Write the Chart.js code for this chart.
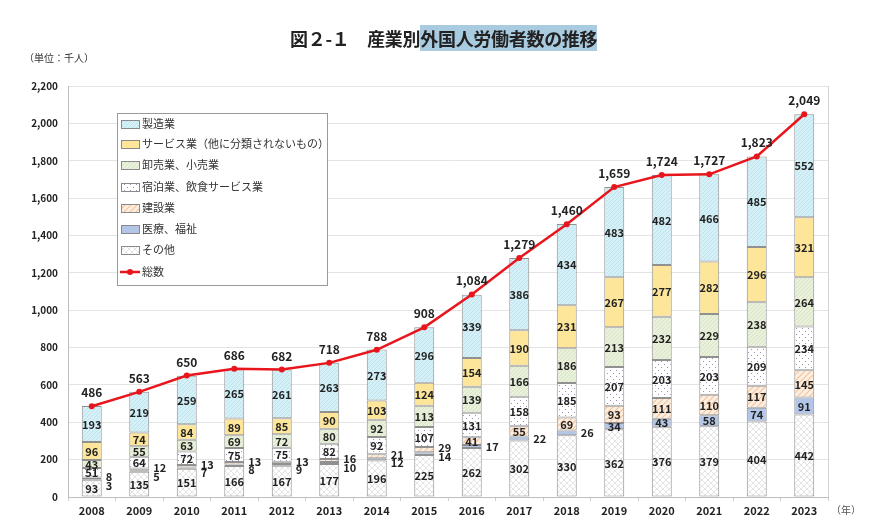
<!DOCTYPE html>
<html><head><meta charset="utf-8">
<script src="https://cdn.jsdelivr.net/npm/chart.js@4/dist/chart.umd.min.js"></script>
<style>
html,body{margin:0;padding:0;background:#fff;}
#wrap{position:relative;width:871px;height:532px;font-family:"Noto Sans CJK JP","Noto Sans",sans-serif;color:#222;}
#title{position:absolute;left:290px;top:25px;font-size:18px;font-weight:bold;white-space:nowrap;line-height:26px;letter-spacing:-0.3px;}
#title .hl{background:#a9cbe0;}
#unit{position:absolute;left:24px;top:50px;font-size:10px;color:#333;}
#nen{position:absolute;left:831px;top:502px;font-size:10px;color:#555;}
canvas{position:absolute;left:0;top:0;}
</style></head>
<body><div id="wrap">
<canvas id="c" width="871" height="532"></canvas>
<div id="title">図２-１　産業別<span class="hl">外国人労働者数の推移</span></div>
<div id="unit">（単位：千人）</div>
<div id="nen">（年）</div>
</div>
<script>
const years = ['2008','2009','2010','2011','2012','2013','2014','2015','2016','2017','2018','2019','2020','2021','2022','2023'];
const seizo   = [193,219,259,265,261,263,273,296,339,386,434,483,482,466,485,552];
const service = [96,74,84,89,85,90,103,124,154,190,231,267,277,282,296,321];
const oroshi  = [43,55,63,69,72,80,92,113,139,166,186,213,232,229,238,264];
const shukuhaku = [51,64,72,75,75,82,92,107,131,158,185,207,203,203,209,234];
const kensetsu = [8,12,13,13,13,16,21,29,41,55,69,93,111,110,117,145];
const iryo    = [3,5,7,8,9,10,12,14,17,22,26,34,43,58,74,91];
const sonota  = [93,135,151,166,167,177,196,225,262,302,330,362,376,379,404,442];
const totals  = [486,563,650,686,682,718,788,908,1084,1279,1460,1659,1724,1727,1823,2049];
const yTicks = [0,200,400,600,800,1000,1200,1400,1600,1800,2000,2200];

const ctx0 = document.getElementById('c').getContext('2d');
function mk(size, bg, draw){
  const c=document.createElement('canvas'); c.width=c.height=size;
  const x=c.getContext('2d'); x.fillStyle=bg; x.fillRect(0,0,size,size); draw(x,size);
  return ctx0.createPattern(c,'repeat');
}
function diag(col,w){return (x,s)=>{x.strokeStyle=col;x.lineWidth=w;x.beginPath();x.moveTo(-1,s+1);x.lineTo(s+1,-1);x.moveTo(-1,1);x.lineTo(1,-1);x.moveTo(s-1,s+1);x.lineTo(s+1,s-1);x.stroke();};}
const pSeizo = mk(4,'#d6f0f8',diag('#b6e0ec',0.8));
const pService = '#fde59a';
const pOroshi = mk(4,'#e9f1dc',diag('#d0e0b8',0.7));
const pShuku = mk(6,'#ffffff',(x)=>{x.fillStyle='#9a92b4';x.fillRect(1,1,1,1);x.fillRect(4,4,1,1);});
const pKensetsu = mk(6,'#fdeedf',diag('#f2c39e',1.1));
const pIryo = '#b3c6e7';
const pSonota = mk(6,'#ffffff',(x)=>{x.strokeStyle='#d2d2d2';x.lineWidth=0.6;x.beginPath();x.moveTo(0,0);x.lineTo(6,6);x.moveTo(6,0);x.lineTo(0,6);x.stroke();});

const barDefs = [
  {label:'その他', data:sonota, backgroundColor:pSonota},
  {label:'医療、福祉', data:iryo, backgroundColor:pIryo},
  {label:'建設業', data:kensetsu, backgroundColor:pKensetsu},
  {label:'宿泊業、飲食サービス業', data:shukuhaku, backgroundColor:pShuku},
  {label:'卸売業、小売業', data:oroshi, backgroundColor:pOroshi},
  {label:'サービス業（他に分類されないもの）', data:service, backgroundColor:pService},
  {label:'製造業', data:seizo, backgroundColor:pSeizo}
];
const datasets = barDefs.map(d=>Object.assign({type:'bar',stack:'a',order:1,borderColor:'#909090',borderWidth:1,borderSkipped:false,categoryPercentage:1,barPercentage:0.42},d));
datasets.push({type:'line',label:'総数',data:totals,stack:'total',order:0,borderColor:'#e8161c',backgroundColor:'#e8161c',borderWidth:2.5,pointRadius:3,pointBackgroundColor:'#e8161c',pointBorderWidth:0,tension:0});

const labelPlugin = {
  id:'labels',
  afterDatasetsDraw(chart){
    const c=chart.ctx; c.save();
    c.font='bold 11px "Noto Sans CJK JP","Noto Sans",sans-serif';
    c.fillStyle='#222'; c.textBaseline='middle';
    const metas = chart.data.datasets.map((d,i)=>chart.getDatasetMeta(i));
    for(let j=0;j<years.length;j++){
      for(let i=0;i<barDefs.length;i++){
        const el=metas[i].data[j]; const v=chart.data.datasets[i].data[j];
        const cy=(el.y+el.base)/2;
        if((i===1||i===2) && v<30){
          c.textAlign='left';
          const xr=el.x+el.width/2+4;
          if(i===2){ c.fillText(String(v),xr,cy-1.5); }
          else {
            const kv=chart.data.datasets[2].data[j];
            if(kv<30){ const k=metas[2].data[j]; c.fillText(String(v),xr,(k.y+k.base)/2+7); }
            else c.fillText(String(v),xr,cy);
          }
        } else {
          c.textAlign='center'; c.fillText(String(v),el.x,cy+0.5);
        }
      }
      const p=metas[barDefs.length].data[j];
      c.font='bold 12px "Noto Sans CJK JP","Noto Sans",sans-serif';
      c.textAlign='center'; c.textBaseline='alphabetic';
      c.fillText(totals[j].toLocaleString('en-US'),p.x,p.y-9);
      c.font='bold 11px "Noto Sans CJK JP","Noto Sans",sans-serif'; c.textBaseline='middle';
    }
    const a=chart.chartArea;
    c.strokeStyle='#d4d4d4'; c.lineWidth=1; c.beginPath(); c.moveTo(a.right+0.5,a.top); c.lineTo(a.right+0.5,a.bottom); c.stroke();
    // legend
    const lx=117, ly=113, lw=210, lh=172;
    c.fillStyle='#fff'; c.fillRect(lx,ly,lw,lh);
    c.strokeStyle='#9a9a9a'; c.strokeRect(lx+0.5,ly+0.5,lw,lh);
    c.font='11px "Noto Sans CJK JP","Noto Sans",sans-serif'; c.textAlign='left'; c.textBaseline='middle';
    const order=[6,5,4,3,2,1,0];
    const rowY=[124,144,165,187,208,229,250,272];
    order.forEach((di,k)=>{
      const y=rowY[k];
      c.fillStyle=barDefs[di].backgroundColor; c.fillRect(121,y-4,18,8);
      c.strokeStyle='#8a8a8a'; c.lineWidth=1; c.strokeRect(121.5,y-3.5,18,8);
      c.fillStyle='#333'; c.fillText(barDefs[di].label,142,y);
    });
    {const y=rowY[7]; c.strokeStyle='#e8161c'; c.lineWidth=2.5; c.beginPath(); c.moveTo(120,y); c.lineTo(140,y); c.stroke();
     c.fillStyle='#e8161c'; c.beginPath(); c.arc(130,y,3,0,Math.PI*2); c.fill();
     c.fillStyle='#333'; c.fillText('総数',142,y);}
    c.restore();
  }
};

new Chart(document.getElementById('c'),{
  data:{labels:years,datasets},
  options:{
    responsive:false, animation:false,
    layout:{padding:{top:86,right:43,left:0,bottom:0}},
    plugins:{legend:{display:false},tooltip:{enabled:false}},
    scales:{
      x:{stacked:true,offset:true,
        grid:{display:true,drawOnChartArea:false,offset:true,color:'#cfcfcf',tickLength:4},
        border:{color:'#bdbdbd'},
        ticks:{color:'#222',font:{family:'"Noto Sans CJK JP","Noto Sans",sans-serif',size:11,weight:'bold'},padding:3,maxRotation:0},
        afterFit(s){s.height=35;}
      },
      y:{stacked:true,min:0,max:2200,
        afterBuildTicks(s){s.ticks=yTicks.map(v=>({value:v}));},
        grid:{color:'#e4e4e4',drawTicks:false},
        border:{color:'#bdbdbd'},
        ticks:{color:'#222',padding:10,font:{family:'"Noto Sans CJK JP","Noto Sans",sans-serif',size:10,weight:'bold'},callback:v=>v.toLocaleString('en-US')},
        afterFit(s){s.width=68;}
      }
    }
  },
  plugins:[labelPlugin]
});
</script>
</body></html>
